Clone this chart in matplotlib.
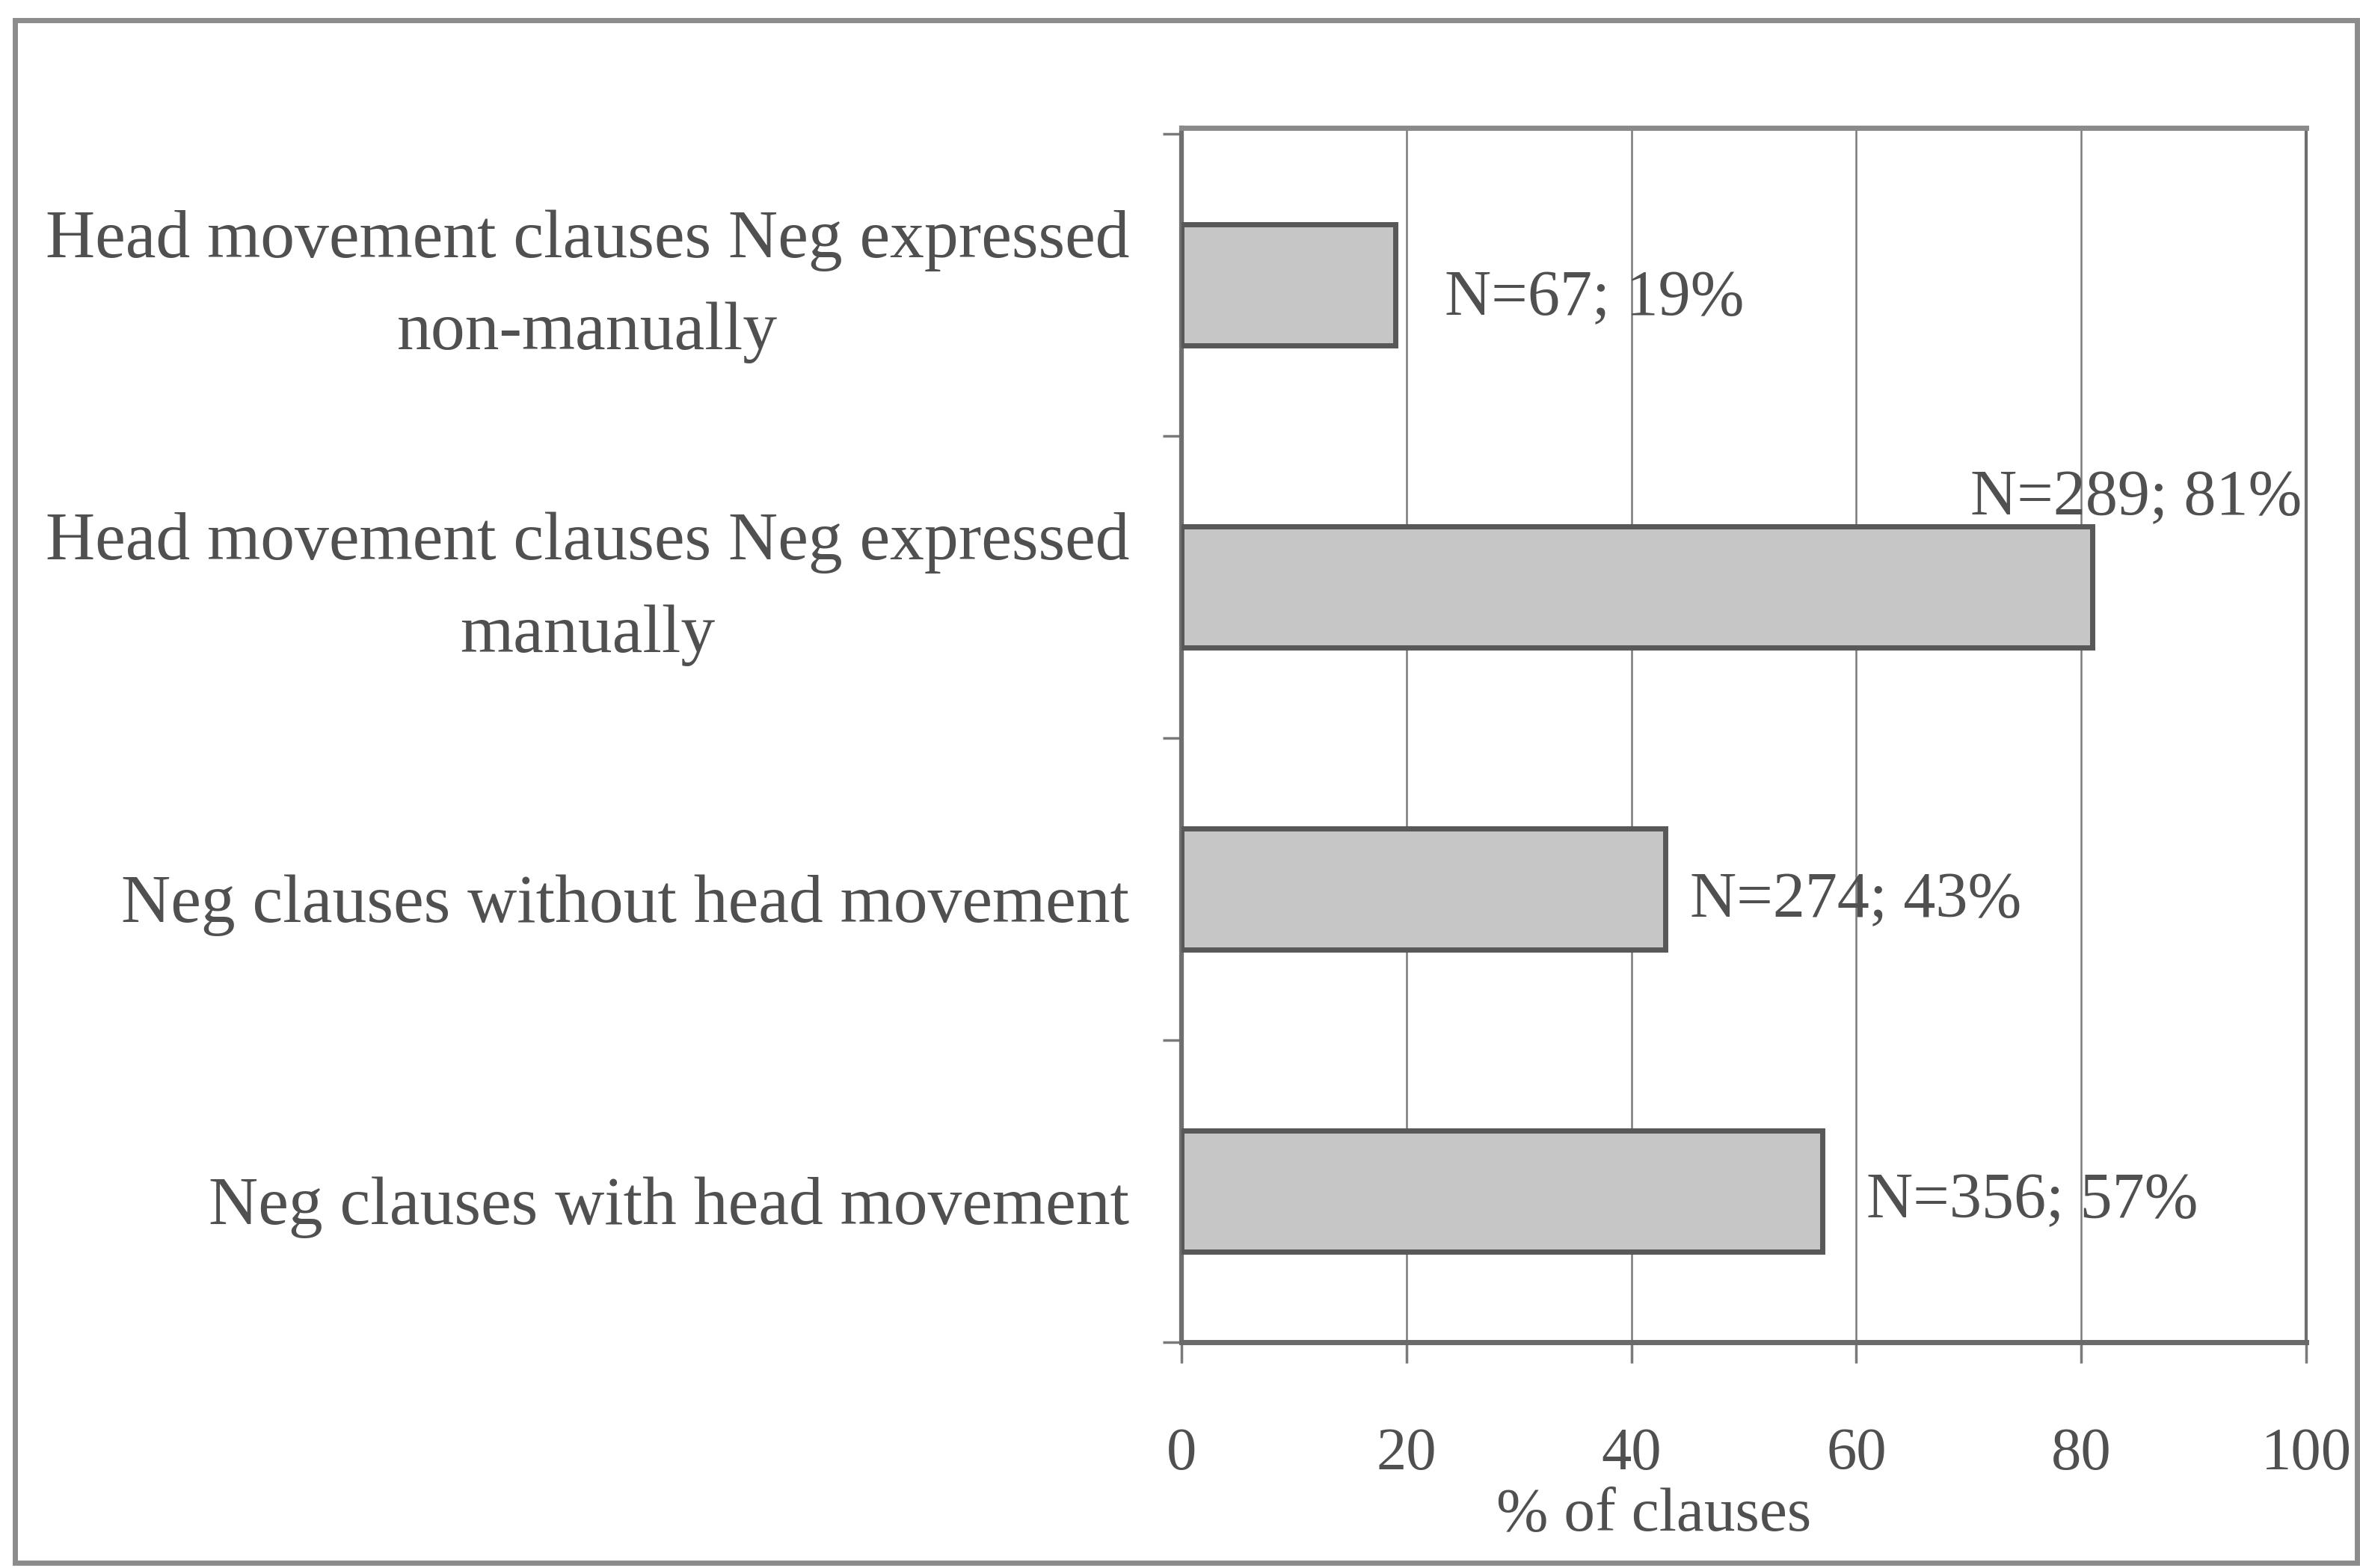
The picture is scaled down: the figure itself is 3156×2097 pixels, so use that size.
import matplotlib
matplotlib.use("Agg")
import matplotlib.pyplot as plt
from matplotlib.patches import Rectangle
from matplotlib.transforms import ScaledTranslation
import numpy as np

# Data
categories = [
    "Head movement clauses Neg expressed\nnon-manually",
    "Head movement clauses Neg expressed\nmanually",
    "Neg clauses without head movement",
    "Neg clauses with head movement",
]
percent = [19, 81, 43, 57]
counts = [67, 289, 274, 356]
x_ticks = [0, 20, 40, 60, 80, 100]
x_label = "% of clauses"

# Styling
plt.rcParams["font.family"] = ["Liberation Serif", "DejaVu Serif"]
text_color = "#505050"
bar_face = "#c6c6c6"
bar_edge = "#585858"
grid_color = "#7a7a7a"

fig = plt.figure(figsize=(31.56, 20.97), dpi=100)
ax = fig.add_axes([0.5006, 0.144, 0.4766, 0.7745])

y = np.arange(len(categories))
ax.barh(y, percent, height=0.40, color=bar_face, edgecolor=bar_edge,
        linewidth=5, zorder=3)

ax.set_xlim(0, 100)
ax.set_ylim(len(categories) - 0.5 - 0.02, -0.5 - 0.02)

# x axis
ax.set_xticks(x_ticks)
ax.set_xticklabels([str(t) for t in x_ticks], fontsize=58, color=text_color)
ax.tick_params(axis="x", direction="out", length=20, width=2.5,
               color=grid_color, pad=62)
ax.xaxis.grid(True, color=grid_color, linewidth=1.8, zorder=0)
ax.set_xlabel(x_label, fontsize=60, color=text_color, labelpad=0)
ax.xaxis.set_label_coords(0.42, -0.12)

# y axis: labels at categories, ticks at category boundaries
ax.set_yticks(y)
ax.set_yticklabels(categories, fontsize=66, color=text_color,
                   multialignment="center", linespacing=1.65)
ax.tick_params(axis="y", which="major", length=0, pad=50)
ax.set_yticks(np.arange(len(categories) + 1) - 0.5, minor=True)
ax.tick_params(axis="y", which="minor", direction="out", length=18,
               width=2.5, color=grid_color)

# centre the visible letters of each label on its category
for lbl in ax.get_yticklabels():
    shift = 20 if "\n" in lbl.get_text() else -9
    lbl.set_transform(lbl.get_transform()
                      + ScaledTranslation(0, shift / 72, fig.dpi_scale_trans))

for side, lw, col in [("left", 4.5, "#6f6f6f"), ("bottom", 5, "#6a6a6a"),
                      ("top", 5, "#8a8a8a"), ("right", 3, "#6f6f6f")]:
    ax.spines[side].set_linewidth(lw)
    ax.spines[side].set_color(col)

# Value labels (baseline offsets in points from the bar end)
label_offsets = [(48, -29), (42, 70), (24, -27), (42, -25)]
for i, (p, n) in enumerate(zip(percent, counts)):
    dx, dy = label_offsets[i]
    txt = f"N={n}; {p}%"
    ha = "center" if dy > 0 else "left"
    ax.annotate(txt, xy=(p, i), xytext=(dx, dy), textcoords="offset points",
                ha=ha, va="baseline", fontsize=62, color=text_color,
                annotation_clip=False)

# Outer frame around the whole chart
fig.patches.append(Rectangle((0.0063, 0.0035), 0.9925, 0.9835,
                             transform=fig.transFigure, fill=False,
                             edgecolor="#8c8c8c", linewidth=5))

fig.savefig("out.png", dpi=100, facecolor="white")
